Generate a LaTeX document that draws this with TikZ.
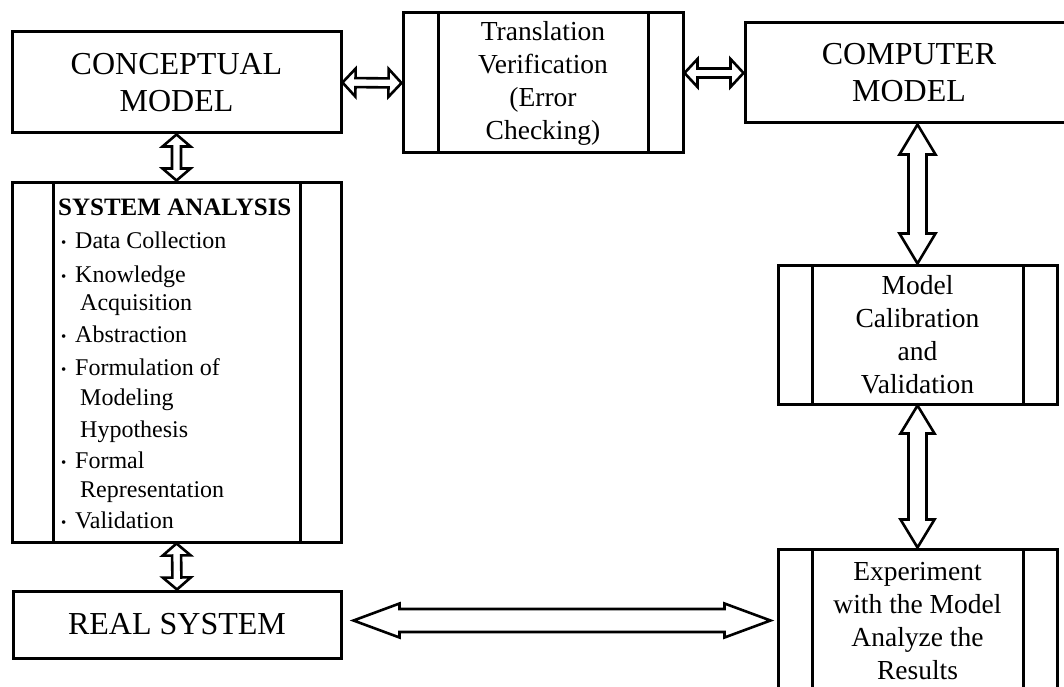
\documentclass[tikz,border=0pt]{standalone}
\usepackage{fontspec}
\setmainfont{Liberation Serif}
\usetikzlibrary{calc}
\tikzset{
 box/.style={draw, line width=3pt, inner sep=0pt, align=center, fill=white},
 big/.style={font=\fontsize{32}{37}\selectfont},
 mid/.style={font=\fontsize{27.5}{33}\selectfont},
 item/.style={font=\fontsize{24}{30}\selectfont, inner sep=0pt, anchor=base west},
 head/.style={font=\fontsize{25}{30}\selectfont\bfseries, inner sep=0pt, anchor=base west},
 process/.style={box, path picture={\draw[line width=3pt]
   ([xshift=#1]path picture bounding box.north west) -- ([xshift=#1]path picture bounding box.south west)
   ([xshift=-#1]path picture bounding box.north east) -- ([xshift=-#1]path picture bounding box.south east);}},
 arrowline/.style={draw, line width=2.6pt, fill=white, line join=miter},
}
\newcommand\dblarrow[5]{%
 \coordinate (dA) at ($(#1)!#5!(#2)$);
 \coordinate (dB) at ($(#2)!#5!(#1)$);
 \draw[arrowline] (#1) -- ($(dA)!#4!90:(#2)$) -- ($(dA)!#3!90:(#2)$) -- ($(dB)!#3!-90:(#1)$) -- ($(dB)!#4!-90:(#1)$) -- (#2) -- ($(dB)!#4!90:(#1)$) -- ($(dB)!#3!90:(#1)$) -- ($(dA)!#3!-90:(#2)$) -- ($(dA)!#4!-90:(#2)$) -- cycle;}
\newcommand\bul{\makebox[14pt][l]{\raisebox{1pt}{\fontsize{15}{15}\selectfont\textbullet}}}
\begin{document}
\begin{tikzpicture}[x=1pt,y=-1pt]
\useasboundingbox[fill=white] (0,0) rectangle (1064,687);
% boxes
\node[box,big,minimum width=329pt,minimum height=101pt] (concept) at (176.5,82.5) {CONCEPTUAL\\MODEL};
\node[process=35pt,mid,minimum width=280pt,minimum height=140pt] (trans) at (543,83) {Translation\\Verification\\(Error\\Checking)};
\node[box,big,minimum width=328pt,minimum height=100pt] (comp) at (909,73) {COMPUTER\\MODEL};
\node[process=41pt,minimum width=329pt,minimum height=360pt] (sys) at (176.5,362) {};
\node[box,big,minimum width=328pt,minimum height=67pt] (real) at (177,624.5) {REAL SYSTEM};
\node[process=34pt,mid,minimum width=279pt,minimum height=139pt] (calib) at (917.5,334.5) {Model\\Calibration\\and\\Validation};
\node[process=34pt,mid,minimum width=279pt,minimum height=144pt] (exp) at (917.5,621) {Experiment\\with the Model\\Analyze the\\Results};
% system analysis contents
\node[head] (s0) at (58,215) {SYSTEM ANALYSIS};
\node[item] (s1) at (61,248) {\bul Data Collection};
\node[item] (s2) at (61,282) {\bul Knowledge};
\node[item] (s3) at (80,310) {Acquisition};
\node[item] (s4) at (61,342) {\bul Abstraction};
\node[item] (s5) at (61,375) {\bul Formulation of};
\node[item] (s6) at (80,405) {Modeling};
\node[item] (s7) at (80,437) {Hypothesis};
\node[item] (s8) at (61,468) {\bul Formal};
\node[item] (s9) at (80,497) {Representation};
\node[item] (s10) at (61,528) {\bul Validation};
% connectors
\dblarrow{concept.east}{trans.west}{4.5pt}{14pt}{13pt}
\coordinate (t2) at (trans.east |- comp.west);
\dblarrow{t2}{comp.west}{4.5pt}{14pt}{13pt}
\dblarrow{concept.south}{sys.north}{4.5pt}{14pt}{12pt}
\dblarrow{sys.south}{real.north}{4.5pt}{14pt}{12pt}
\coordinate (c2) at (calib.north |- comp.south);
\dblarrow{c2}{calib.north}{9pt}{18pt}{30pt}
\dblarrow{calib.south}{exp.north}{9pt}{17pt}{28pt}
\coordinate (r1) at ([xshift=11pt,yshift=4pt]real.east);
\coordinate (r2x) at (exp.west |- r1);
\coordinate (r2) at ([xshift=-6pt]r2x);
\dblarrow{r1}{r2}{11.5pt}{17pt}{46pt}
\end{tikzpicture}
\end{document}
